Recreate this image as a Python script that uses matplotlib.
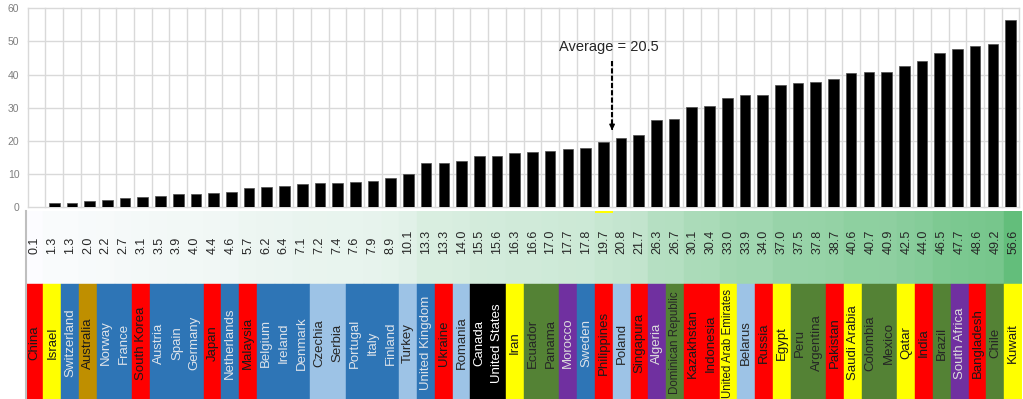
import numpy as np
import matplotlib
matplotlib.use("Agg")
import matplotlib.pyplot as plt
from matplotlib import font_manager
from matplotlib.colors import LinearSegmentedColormap

# data
countries = ["China", "Israel", "Switzerland", "Australia", "Norway", "France",
             "South Korea", "Austria", "Spain", "Germany", "Japan", "Netherlands",
             "Malaysia", "Belgium", "Ireland", "Denmark", "Czechia", "Serbia",
             "Portugal", "Italy", "Finland", "Turkey", "United Kingdom", "Ukraine",
             "Romania", "Canada", "United States", "Iran", "Ecuador", "Panama",
             "Morocco", "Sweden", "Philippines", "Poland", "Singapura", "Algeria",
             "Dominican Republic", "Kazakhstan", "Indonesia", "United Arab Emirates",
             "Belarus", "Russia", "Egypt", "Peru", "Argentina", "Pakistan",
             "Saudi Arabia", "Colombia", "Mexico", "Qatar", "India", "Brazil",
             "South Africa", "Bangladesh", "Chile", "Kuwait"]
values = [0.1, 1.3, 1.3, 2.0, 2.2, 2.7, 3.1, 3.5, 3.9, 4.0, 4.4, 4.6, 5.7, 6.2,
          6.4, 7.1, 7.2, 7.4, 7.6, 7.9, 8.9, 10.1, 13.3, 13.3, 14.0, 15.5, 15.6,
          16.3, 16.6, 17.0, 17.7, 17.8, 19.7, 20.8, 21.7, 26.3, 26.7, 30.1, 30.4,
          33.0, 33.9, 34.0, 37.0, 37.5, 37.8, 38.7, 40.6, 40.7, 40.9, 42.5, 44.0,
          46.5, 47.7, 48.6, 49.2, 56.6]
groups = ["red", "yellow", "blue", "gold", "blue", "blue", "red", "blue", "blue",
          "blue", "red", "blue", "red", "blue", "blue", "blue", "lightblue",
          "lightblue", "blue", "blue", "blue", "lightblue", "blue", "red",
          "lightblue", "black", "black", "yellow", "green", "green", "purple",
          "blue", "red", "lightblue", "red", "purple", "green", "red", "red",
          "yellow", "lightblue", "red", "yellow", "green", "green", "red",
          "yellow", "green", "green", "yellow", "red", "green", "purple", "red",
          "green", "yellow"]
average = 20.5

fill = {"red": "#FF0000", "yellow": "#FFFF00", "blue": "#2E75B6", "gold": "#BF8F00",
        "lightblue": "#9DC3E6", "black": "#000000", "green": "#548235",
        "purple": "#7030A0"}
ink = {"red": "#1a1a1a", "yellow": "#1a1a1a", "blue": "#dde3ea", "gold": "#1a1a1a",
       "lightblue": "#262626", "black": "#ffffff", "green": "#262626",
       "purple": "#dcdcdc"}

names = {f.name for f in font_manager.fontManager.ttflist}
narrow = "Liberation Sans"
for cand in ["Liberation Sans Narrow", "DejaVu Sans Condensed"]:
    if cand in names:
        narrow = cand
        break
plt.rcParams["font.family"] = ["Liberation Sans", "DejaVu Sans"]

W, H = 1023, 399
fig = plt.figure(figsize=(W / 100, H / 100), dpi=100)


def px_axes(x0, y0, x1, y1):
    return fig.add_axes([x0 / W, 1 - y1 / H, (x1 - x0) / W, (y1 - y0) / H])


n = len(values)
x = np.arange(n)

# bar chart
ax = px_axes(27.7, 8.3, 1019.4, 207.3)
ax.bar(x, values, width=0.6, color="black", edgecolor="#4d4d4d", lw=0.5, zorder=3)
ax.set_xlim(-0.5, n - 0.5)
ax.set_ylim(0, 60)
ax.set_yticks(range(0, 61, 10))
ax.set_xticks(np.arange(n + 1) - 0.5)
ax.set_xticklabels([])
ax.grid(color="#D9D9D9", lw=1, zorder=0)
for s in ax.spines.values():
    s.set_visible(False)
ax.tick_params(axis="both", length=0)
ax.tick_params(axis="y", pad=6, labelsize=7.5, labelcolor="#7f7f7f")
for gl in ax.get_xgridlines() + ax.get_ygridlines():
    gl.set_clip_on(False)

# average marker
ax.plot([32.5, 32.5], [44.1, 24.0], color="black", lw=1.5, ls=(0, (2.5, 1)), zorder=4)
ax.annotate("", xy=(32.5, 22.4), xytext=(32.5, 24.5),
            arrowprops=dict(arrowstyle="-|>", color="black", lw=1, mutation_scale=8),
            zorder=4)
ax.text(32.32, 48.2, f"Average = {average}", ha="center", va="center",
        fontsize=10.5, color="#262626", zorder=5)

# table under the bars
ax_t = px_axes(25.7, 210.5, 1022, 399)
ax_t.set_xlim(-0.5, n - 0.5)
ax_t.set_ylim(0, 188.5)
cmap = LinearSegmentedColormap.from_list("scale", ["#FCFCFF", "#63BE7B"])
vals = np.array(values)
scaled = (vals - vals.min()) / (vals.max() - vals.min())
ax_t.bar(x, 73.5, bottom=115, width=1.0, color=cmap(scaled), edgecolor=cmap(scaled), lw=0.3)
ax_t.bar(x, 115, bottom=0, width=1.0, color=[fill[g] for g in groups],
         edgecolor=[fill[g] for g in groups], lw=0.3)
ax_t.bar(countries.index("Philippines"), 2, bottom=186.5, width=1.0, color="#FFFF00", lw=0)

for i, (c, v, g) in enumerate(zip(countries, values, groups)):
    ax_t.text(i, 145, f"{v:.1f}", rotation=90, ha="center", va="bottom",
              fontsize=9, color="#262626", family=narrow)
    size = 9.5 if len(c) < 17 else 8.3
    ax_t.text(i, 56, c, rotation=90, ha="center", va="center", fontsize=size,
              color=ink[g], family=narrow, clip_on=True)

ax_t.set_xticks([])
ax_t.set_yticks([])
for k, s in ax_t.spines.items():
    s.set_visible(k == "left")
ax_t.spines["left"].set_color("#BFBFBF")
ax_t.spines["left"].set_linewidth(1.5)

fig.savefig("out.png", dpi=100)
